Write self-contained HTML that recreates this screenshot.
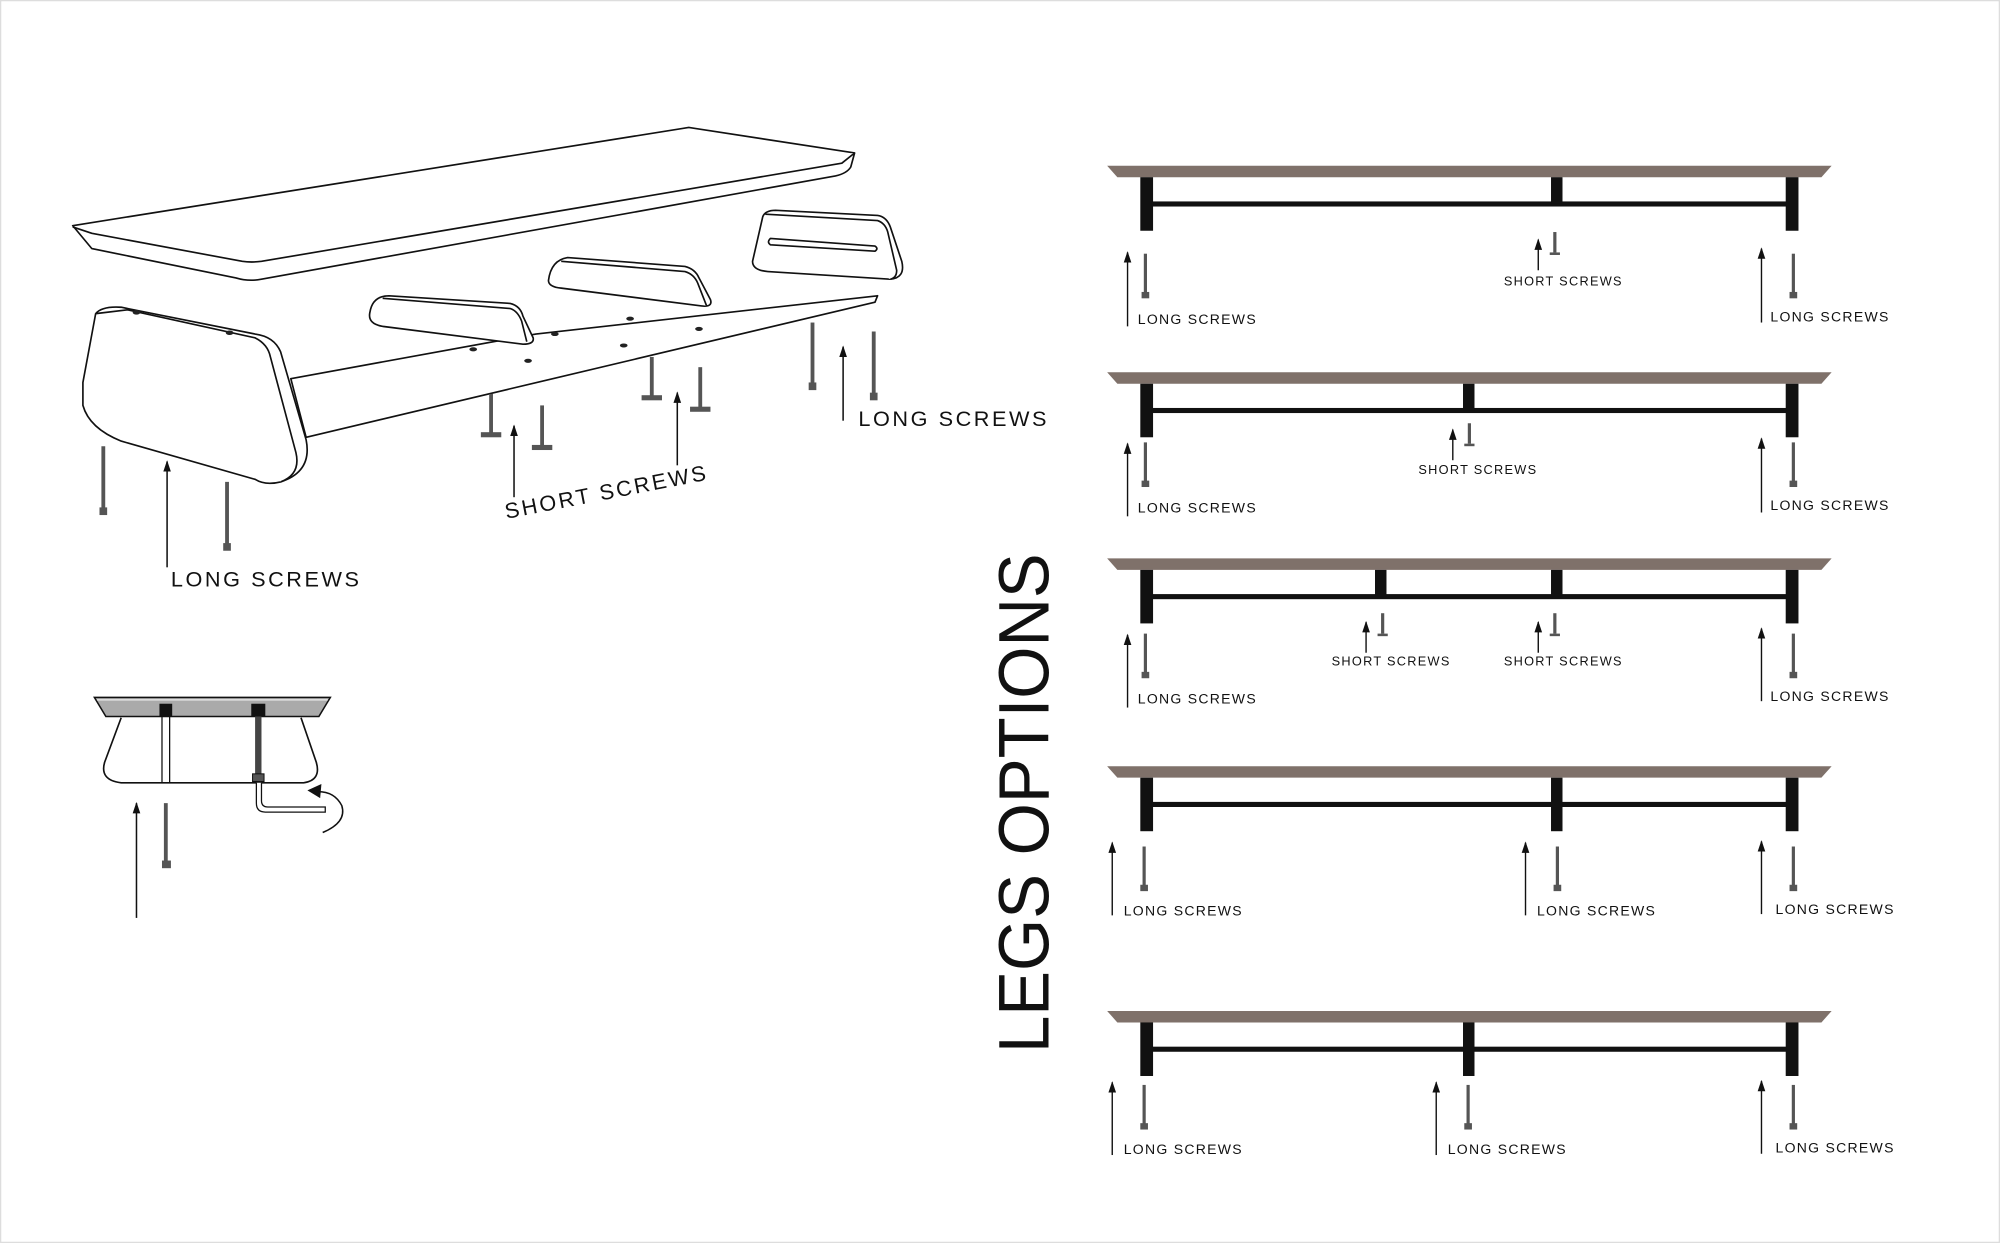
<!DOCTYPE html>
<html><head><meta charset="utf-8"><style>
html,body{margin:0;padding:0;background:#fff;}
svg{display:block;}
text{font-family:"Liberation Sans",sans-serif;fill:#111;}
.l{font-size:11px;letter-spacing:1px;}
</style></head><body>
<svg width="2000" height="1243" viewBox="0 0 1568 975" preserveAspectRatio="none" xmlns="http://www.w3.org/2000/svg">
<defs>
<marker id="ah" markerWidth="9" markerHeight="8" refX="8" refY="4" orient="auto" markerUnits="userSpaceOnUse"><path d="M0,1 L9,4 L0,7 Z" fill="#111"/></marker>
</defs>
<rect x="0.5" y="0.5" width="1567" height="974" fill="#fff" stroke="#ddd"/>

<!-- 3D exploded -->
<g fill="#fff" stroke="#111" stroke-width="1.3" stroke-linejoin="round">
<path d="M57,177 L540,100 L670,120 L667,131 Q664,136 655,138 L205,219 Q195,221 185,218 L72,195 Z"/>
<path d="M57,178 L72,183 L190,205 Q197,206 205,205 L660,128 L670,120"/>
<path d="M228,297 L420,262 L688,232 L686,237 L240,343 Z"/>
<path d="M75,246 Q80,240 95,241 L200,262 Q215,264 220,276 L240,345 Q245,370 220,378 Q208,381 200,376 L95,346 Q70,336 65,318 L65,300 Z"/>
<path d="M75,246 L100,243 L200,265 Q210,270 212,280 L232,355 Q236,372 220,378"/>
<path d="M290,245 Q292,232 305,232 L400,238 Q408,240 410,248 L418,265 Q419,270 410,270 L300,256 Q288,254 290,245 Z"/>
<path d="M300,234 L400,242 Q406,244 409,252 L413,268"/>
<path d="M430,220 Q432,204 445,202 L537,209 Q545,211 548,218 L557,235 Q559,241 550,240 L440,226 Q430,225 430,220 Z"/>
<path d="M440,205 L537,213 Q544,215 547,222 L554,240"/>
<path d="M590,205 L598,170 Q600,165 608,165 L688,169 Q695,170 698,178 L707,205 Q710,218 698,219 L602,213 Q590,212 590,205 Z"/>
<path d="M600,168 L688,173 Q694,175 696,182 L703,212 Q703,218 698,219"/>
<path d="M604,187 L686,193 Q689,195 686,197 L604,192 Q601,190 604,187 Z"/>
</g>
<g fill="#222">
<ellipse cx="107" cy="245" rx="3" ry="1.8"/><ellipse cx="180" cy="261" rx="3" ry="1.8"/>
<ellipse cx="371" cy="274" rx="3" ry="1.6"/><ellipse cx="414" cy="283" rx="3" ry="1.6"/><ellipse cx="435" cy="262" rx="3" ry="1.6"/><ellipse cx="489" cy="271" rx="3" ry="1.6"/><ellipse cx="548" cy="258" rx="3" ry="1.6"/><ellipse cx="494" cy="250" rx="3" ry="1.6"/>
</g>
<g stroke="#555" stroke-width="3" fill="#555">
<line x1="81" y1="350" x2="81" y2="400"/><rect x="78" y="398" width="6" height="6" stroke="none"/>
<line x1="178" y1="378" x2="178" y2="428"/><rect x="175" y="426" width="6" height="6" stroke="none"/>
<line x1="637" y1="253" x2="637" y2="302"/><rect x="634" y="300" width="6" height="6" stroke="none"/>
<line x1="685" y1="260" x2="685" y2="310"/><rect x="682" y="308" width="6" height="6" stroke="none"/>
<line x1="385" y1="309" x2="385" y2="340"/><rect x="377" y="339" width="16" height="4" stroke="none"/>
<line x1="425" y1="318" x2="425" y2="350"/><rect x="417" y="349" width="16" height="4" stroke="none"/>
<line x1="511" y1="280" x2="511" y2="311"/><rect x="503" y="310" width="16" height="4" stroke="none"/>
<line x1="549" y1="288" x2="549" y2="320"/><rect x="541" y="319" width="16" height="4" stroke="none"/>
</g>
<g stroke="#111" stroke-width="1.2" marker-end="url(#ah)">
<line x1="131" y1="445" x2="131" y2="362"/>
<line x1="403" y1="390" x2="403" y2="334"/>
<line x1="531" y1="365" x2="531" y2="308"/>
<line x1="661" y1="330" x2="661" y2="272"/>
</g>
<text x="134" y="460" style="font-size:17px;letter-spacing:2px">LONG SCREWS</text>
<text x="397" y="407" transform="rotate(-11 397 407)" style="font-size:17px;letter-spacing:2px">SHORT SCREWS</text>
<text x="673" y="334" style="font-size:17px;letter-spacing:2px">LONG SCREWS</text>

<!-- section detail -->
<path d="M74,547 L259,547 L250,562 L83,562 Z" fill="#aaa" stroke="#111" stroke-width="1.2"/>
<line x1="76" y1="549" x2="257" y2="549" stroke="#eee" stroke-width="1"/>
<path d="M95,563 L82,598 Q78,612 95,614 L238,614 Q252,612 248,598 L236,563" fill="#fff" stroke="#111" stroke-width="1.3"/>
<rect x="125" y="552" width="10" height="10" fill="#111"/>
<rect x="197" y="552" width="11" height="10" fill="#111"/>
<line x1="127" y1="562" x2="127" y2="614" stroke="#111"/><line x1="133" y1="562" x2="133" y2="614" stroke="#111"/>
<rect x="200" y="562" width="5" height="46" fill="#444"/>
<rect x="198" y="607" width="9" height="6" fill="#555" stroke="#111" stroke-width="0.8"/>
<path d="M201,614 L201,630 Q201,637 208,637 L255,637 L255,633 L210,633 Q205,633 205,628 L205,614" fill="#fff" stroke="#111" stroke-width="1"/>
<path d="M253,653 Q272,645 268,632 Q262,620 247,621" fill="none" stroke="#111" stroke-width="1.2"/>
<path d="M241,620 L252,615 L251,626 Z" fill="#111"/>
<line x1="107" y1="720" x2="107" y2="630" stroke="#111" stroke-width="1.2" marker-end="url(#ah)"/>
<line x1="130" y1="630" x2="130" y2="677" stroke="#555" stroke-width="3"/><rect x="127" y="675" width="7" height="6" fill="#555"/>

<!-- LEGS OPTIONS -->
<text transform="translate(822,826) rotate(-90)" style="font-size:56px;font-weight:normal" textLength="392" lengthAdjust="spacingAndGlyphs">LEGS OPTIONS</text>

<!-- shelves -->
<g fill="#7f716a">
<path d="M868,130 L1436,130 L1428,139 L876,139 Z"/>
<path d="M868,292 L1436,292 L1428,301 L876,301 Z"/>
<path d="M868,438 L1436,438 L1428,447 L876,447 Z"/>
<path d="M868,601 L1436,601 L1428,610 L876,610 Z"/>
<path d="M868,793 L1436,793 L1428,802 L876,802 Z"/>
</g>
<g fill="#111">
<rect x="894" y="139" width="10" height="42"/><rect x="1400" y="139" width="10" height="42"/><rect x="903" y="158" width="498" height="4"/><rect x="1216" y="139" width="9" height="21"/>
<rect x="894" y="301" width="10" height="42"/><rect x="1400" y="301" width="10" height="42"/><rect x="903" y="320" width="498" height="4"/><rect x="1147" y="301" width="9" height="21"/>
<rect x="894" y="447" width="10" height="42"/><rect x="1400" y="447" width="10" height="42"/><rect x="903" y="466" width="498" height="4"/><rect x="1078" y="447" width="9" height="21"/><rect x="1216" y="447" width="9" height="21"/>
<rect x="894" y="610" width="10" height="42"/><rect x="1400" y="610" width="10" height="42"/><rect x="903" y="629" width="498" height="4"/><rect x="1216" y="610" width="9" height="42"/>
<rect x="894" y="802" width="10" height="42"/><rect x="1400" y="802" width="10" height="42"/><rect x="903" y="821" width="498" height="4"/><rect x="1147" y="802" width="9" height="42"/>
</g>
<g stroke="#555" stroke-width="2.5">
<line x1="898" y1="199" x2="898" y2="230"/><line x1="1406" y1="199" x2="1406" y2="230"/>
<line x1="898" y1="347" x2="898" y2="378"/><line x1="1406" y1="347" x2="1406" y2="378"/>
<line x1="898" y1="497" x2="898" y2="528"/><line x1="1406" y1="497" x2="1406" y2="528"/>
<line x1="897" y1="664" x2="897" y2="695"/><line x1="1221" y1="664" x2="1221" y2="695"/><line x1="1406" y1="664" x2="1406" y2="695"/>
<line x1="897" y1="851" x2="897" y2="882"/><line x1="1151" y1="851" x2="1151" y2="882"/><line x1="1406" y1="851" x2="1406" y2="882"/>
<line x1="1219" y1="182" x2="1219" y2="198"/><line x1="1152" y1="332" x2="1152" y2="348"/>
<line x1="1084" y1="481" x2="1084" y2="497"/><line x1="1219" y1="481" x2="1219" y2="497"/>
</g>
<g fill="#555">
<rect x="895" y="229" width="6" height="5"/><rect x="1403" y="229" width="6" height="5"/>
<rect x="895" y="377" width="6" height="5"/><rect x="1403" y="377" width="6" height="5"/>
<rect x="895" y="527" width="6" height="5"/><rect x="1403" y="527" width="6" height="5"/>
<rect x="894" y="694" width="6" height="5"/><rect x="1218" y="694" width="6" height="5"/><rect x="1403" y="694" width="6" height="5"/>
<rect x="894" y="881" width="6" height="5"/><rect x="1148" y="881" width="6" height="5"/><rect x="1403" y="881" width="6" height="5"/>
<rect x="1215" y="198" width="8" height="2"/><rect x="1148" y="348" width="8" height="2"/>
<rect x="1080" y="497" width="8" height="2"/><rect x="1215" y="497" width="8" height="2"/>
</g>
<g stroke="#111" stroke-width="1.1" marker-end="url(#ah)">
<line x1="884" y1="256" x2="884" y2="198"/><line x1="1381" y1="253" x2="1381" y2="195"/><line x1="1206" y1="212" x2="1206" y2="188"/>
<line x1="884" y1="405" x2="884" y2="348"/><line x1="1381" y1="402" x2="1381" y2="344"/><line x1="1139" y1="361" x2="1139" y2="337"/>
<line x1="884" y1="555" x2="884" y2="498"/><line x1="1381" y1="550" x2="1381" y2="493"/><line x1="1071" y1="512" x2="1071" y2="488"/><line x1="1206" y1="512" x2="1206" y2="488"/>
<line x1="872" y1="718" x2="872" y2="661"/><line x1="1196" y1="718" x2="1196" y2="661"/><line x1="1381" y1="717" x2="1381" y2="660"/>
<line x1="872" y1="906" x2="872" y2="849"/><line x1="1126" y1="906" x2="1126" y2="849"/><line x1="1381" y1="905" x2="1381" y2="848"/>
</g>
<g>
<text class="l" x="892" y="254">LONG SCREWS</text><text class="l" x="1388" y="252">LONG SCREWS</text><text class="l" x="1179" y="224" style="font-size:10px">SHORT SCREWS</text>
<text class="l" x="892" y="402">LONG SCREWS</text><text class="l" x="1388" y="400">LONG SCREWS</text><text class="l" x="1112" y="372" style="font-size:10px">SHORT SCREWS</text>
<text class="l" x="892" y="552">LONG SCREWS</text><text class="l" x="1388" y="550">LONG SCREWS</text><text class="l" x="1044" y="522" style="font-size:10px">SHORT SCREWS</text><text class="l" x="1179" y="522" style="font-size:10px">SHORT SCREWS</text>
<text class="l" x="881" y="718">LONG SCREWS</text><text class="l" x="1205" y="718">LONG SCREWS</text><text class="l" x="1392" y="717">LONG SCREWS</text>
<text class="l" x="881" y="905">LONG SCREWS</text><text class="l" x="1135" y="905">LONG SCREWS</text><text class="l" x="1392" y="904">LONG SCREWS</text>
</g>
</svg>
</body></html>
